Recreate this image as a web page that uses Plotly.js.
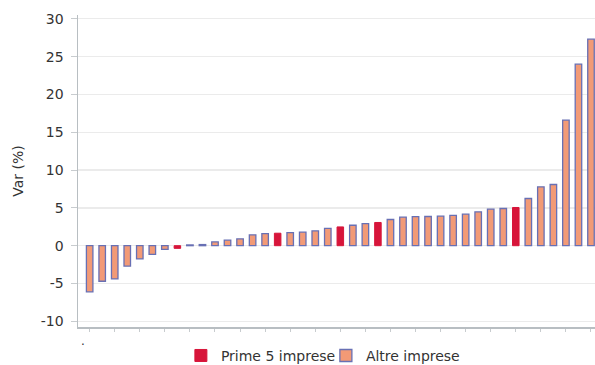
<!DOCTYPE html>
<html>
<head>
<meta charset="utf-8">
<script src="https://cdn.plot.ly/plotly-3.0.1.min.js"></script>
<style>html,body{margin:0;padding:0;background:#fff;}#chart{width:595px;height:365px;}</style>
</head>
<body>
<div id="chart"></div>
<script>
// Categories (companies, unnamed in the reference)
const categories = ["1","2","3","4","5","6","7","8","9","10","11","12","13","14","15","16","17","18","19","20","21","22","23","24","25","26","27","28","29","30","31","32","33","34","35","36","37","38","39","40","41"];
// Variation (%) per company, sorted ascending
const values = [-6.1,-4.7,-4.4,-2.7,-1.75,-1.15,-0.5,-0.35,0.1,0.15,0.5,0.73,0.9,1.43,1.6,1.65,1.74,1.79,1.96,2.3,2.48,2.7,2.93,3.07,3.46,3.77,3.85,3.86,3.9,4.0,4.17,4.47,4.83,4.92,5.05,6.24,7.78,8.09,16.6,24.0,27.3];
// Which companies belong to the top 5
const top5 = ["8","16","21","24","35"];
const seriesNames = ["Prime 5 imprese","Altre imprese"];
// Y tick values and labels (hyphen minus as in the reference)
const yTickVals = [-10,-5,0,5,10,15,20,25,30];
const yTickText = ["-10","-5","0","5","10","15","20","25","30"];

const topY = categories.map((c,i)=> top5.includes(c) ? values[i] : null);
const otherY = categories.map((c,i)=> top5.includes(c) ? null : values[i]);

const traces = [
  {type:'bar', x:categories, y:topY, name:seriesNames[0], width:0.52,
   marker:{color:'#d7153a', line:{color:'#d7153a', width:1}}, hoverinfo:'skip'},
  {type:'bar', x:categories, y:otherY, name:seriesNames[1], width:0.52,
   marker:{color:'#f29a76', line:{color:'#6870b4', width:1.3}}, hoverinfo:'skip'}
];

const layout = {
  width:595, height:365,
  margin:{l:78, r:0, t:15, b:38, autoexpand:false},
  barmode:'overlay',
  paper_bgcolor:'#fff', plot_bgcolor:'#fff',
  font:{family:'DejaVu Sans, sans-serif', size:14, color:'#333'},
  xaxis:{type:'category', range:[-0.93,40.32], showticklabels:false,
         ticks:'outside', ticklen:3, tickcolor:'#c8cccf', tickwidth:1,
         showgrid:false, showline:true, linecolor:'#b8bec2', linewidth:1.5, zeroline:false},
  yaxis:{range:[-10.75,30.5], tickvals:yTickVals, ticktext:yTickText,
         ticks:'outside', ticklen:6, tickcolor:'#c8cccf', ticklabelstandoff:4,
         showgrid:true, gridcolor:'#ebebeb', gridwidth:1.3,
         showline:true, linecolor:'#b8bec2', linewidth:1.5, zeroline:false,
         tickfont:{size:14, color:'#333'},
         title:{text:'Var (%)', font:{size:14, color:'#333'}, standoff:14}},
  showlegend:true,
  legend:{orientation:'h', x:0.199, xanchor:'left', yref:'container', y:0.025, yanchor:'middle',
          font:{size:14, color:'#333'}, traceorder:'normal', itemwidth:30, entrywidth:100},
  annotations:[{text:'.', xref:'paper', yref:'paper', x:0.002, y:-0.075, showarrow:false,
                font:{size:12, color:'#333'}}]
};

Plotly.newPlot('chart', traces, layout, {staticPlot:true, displayModeBar:false});
</script>
</body>
</html>
